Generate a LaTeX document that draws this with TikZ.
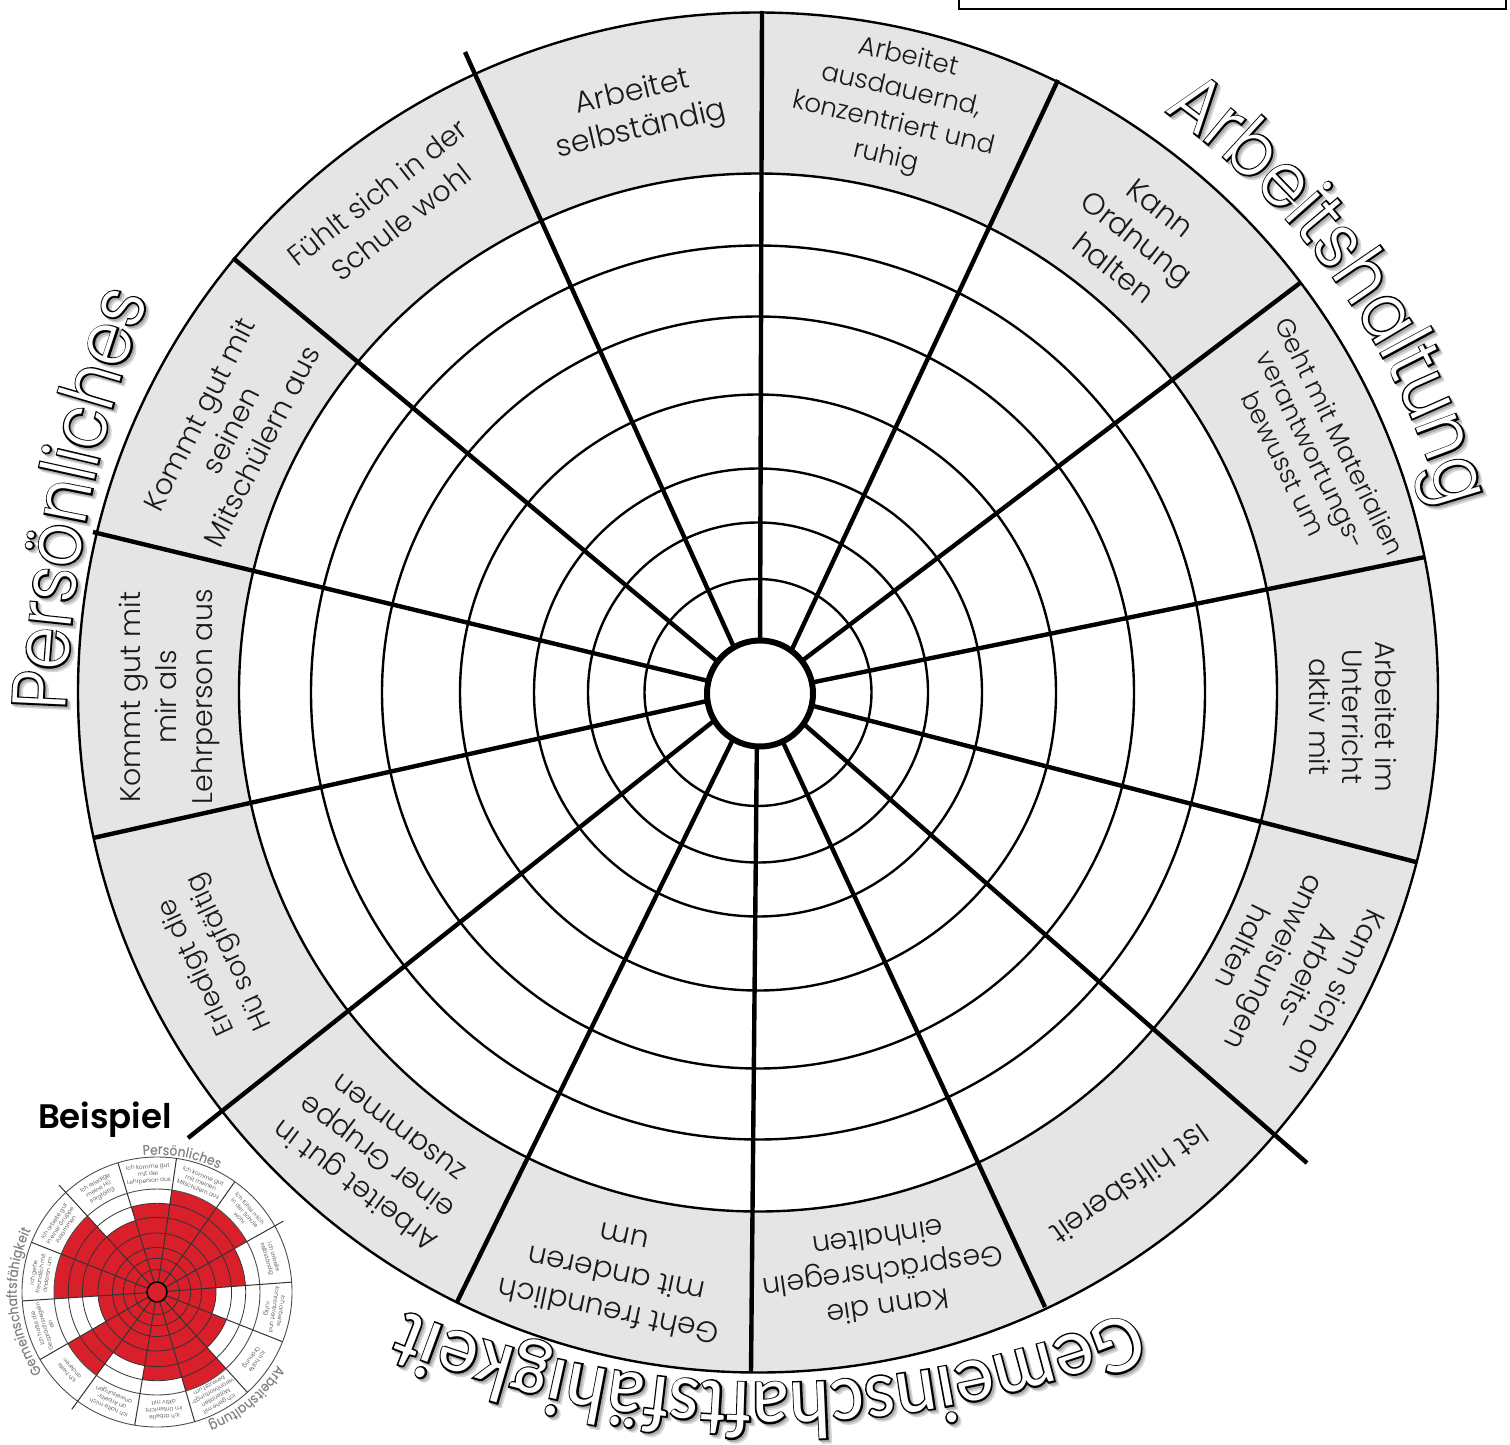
\documentclass[tikz,border=0pt]{standalone}
\usepackage{fontspec}
\usetikzlibrary{decorations.text}
\setmainfont{Poppins Light}
\newfontfamily\pfw[FakeStretch=.9]{Poppins Light}
\newfontfamily\pfb[FakeStretch=.9,FakeBold=4]{Poppins Light}
\newfontfamily\afw[FakeStretch=.9]{Poppins Light}
\newfontfamily\afb[FakeStretch=.9,FakeBold=4]{Poppins Light}
\newfontfamily\gfw[FakeStretch=.95]{Carlito}
\newfontfamily\gfb[FakeStretch=.95,FakeBold=4]{Carlito}
\newfontfamily\ifn[FakeStretch=.88]{Poppins Medium}
\newfontfamily\beifont{Poppins SemiBold}
\newcommand\hw{}\newcommand\hb{}\newcommand\hsa{}\newcommand\hsb{}
\newcommand\usehead[3]{%
 \renewcommand\hw{#1\fontsize{#3}{#3}\selectfont\color{white}}%
 \renewcommand\hb{#2\fontsize{#3}{#3}\selectfont\color{black}}%
 \renewcommand\hsa{#2\fontsize{#3}{#3}\selectfont\color{black!16}}%
 \renewcommand\hsb{#2\fontsize{#3}{#3}\selectfont\color{black!32}}}
\newcommand\hi{\ifn\fontsize{14}{14}\selectfont\color{black!50}}
\definecolor{ringgray}{HTML}{E5E5E5}
\definecolor{insetred}{HTML}{D9202A}
\newcommand\hdg[6]{% cx cy r start end text
 \path[decorate,decoration={text along path,text align=center,text={|\hsa|#6}}] (#1+3.5,#2-3.5)+(#4:#3) arc[start angle=#4,end angle=#5,radius=#3];
 \path[decorate,decoration={text along path,text align=center,text={|\hsb|#6}}] (#1+1.8,#2-1.8)+(#4:#3) arc[start angle=#4,end angle=#5,radius=#3];
 \path[decorate,decoration={text along path,text align=center,text={|\hb|#6}}] (#1,#2)+(#4:#3) arc[start angle=#4,end angle=#5,radius=#3];
 \path[decorate,decoration={text along path,text align=center,text={|\hw|#6}}] (#1,#2)+(#4:#3) arc[start angle=#4,end angle=#5,radius=#3];
}
\tikzset{
 ring/.style={line width=2.4pt,black},
 spoke/.style={line width=4.4pt,black},
 hub/.style={line width=6pt,black,fill=white},
 lbl/.style 2 args={align=center,inner sep=0pt,text=black!90,font=\fontsize{#1}{#2}\selectfont},
 ilbl/.style={align=center,inner sep=0pt,text=black!75,font=\fontsize{5.8}{7}\selectfont},
 iring/.style={line width=0.9pt,black!70},
 ispoke/.style={line width=1pt,black!80}
}
\begin{document}
\begin{tikzpicture}[x=1pt,y=1pt]
\useasboundingbox (0,0) rectangle (1510,-1445);
\clip (0,0) rectangle (1510,-1445);
% top right box
\draw[line width=2.4pt] (959,5) |- (1506,-9) -- (1506,5);
% rings
\coordinate (C) at (758,-692.5);
\fill[ringgray] (C) circle[radius=680];
\draw[ring] (C) circle[radius=680];
\fill[white] (C) circle[radius=519];
\foreach \r in {113.5,170,224,298,376,447,519} \draw[ring] (C) circle[radius=\r];
% spokes
\foreach \xa/\ya/\xb/\yb in {762/11/760/660,1058/80/787/660,1300/283/790/670,1425/557/790/687,1416/862/790/700,1307/1163/790/712,1045/1307/775/725,751/1372/757/730,457/1302/740/725,188/1138/725/712,93/838/725/697,93/532/725/685,233/258/730/672,465/52/742/665}
  \draw[spoke] (\xa,-\ya) -- (\xb,-\yb);
\draw[hub] (760,-693.5) circle[radius=53];
% labels
\node[lbl={30}{38}] (n1) at (637,-112) [rotate=13] {Arbeitet\\selbständig};
\node[lbl={26}{34}] (n2) at (897,-108) [rotate=-13] {Arbeitet\\ausdauernd,\\konzentriert und\\ruhig};
\node[lbl={30}{38}] (n3) at (1137,-238) [rotate=-38] {Kann\\Ordnung\\halten};
\node[lbl={26}{31}] (n4) at (1312,-450) [rotate=-64] {Geht mit Materialien\\verantwortungs-\\bewusst um};
\node[lbl={28}{33}] (n5) at (1353,-717) [rotate=-90] {Arbeitet im\\Unterricht\\aktiv mit};
\node[lbl={28.5}{35}] (n6) at (1291,-970) [rotate=-116] {Kann sich an\\Arbeits-\\anweisungen\\halten};
\node[lbl={30}{36}] (n7) at (1130,-1185) [rotate=-145] {Ist hilfsbereit};
\node[lbl={28.4}{35}] (n8) at (883,-1273) [rotate=-172] {Kann die\\Gesprächsregeln\\einhalten};
\node[lbl={29.5}{38}] (n9) at (616,-1275) [rotate=168] {Geht freundlich\\mit anderen\\um};
\node[lbl={28.5}{36}] (n10) at (376,-1158) [rotate=143] {Arbeitet gut in\\einer Gruppe\\zusammen};
\node[lbl={27}{36}] (n11) at (214,-959) [rotate=115] {Erledigt die\\Hü sorgfältig};
\node[lbl={28.4}{36}] (n12) at (169,-697) [rotate=90] {Kommt gut mit\\mir als\\Lehrperson aus};
\node[lbl={28.5}{35}] (n13) at (230,-430) [rotate=63] {Kommt gut mit\\seinen\\Mitschülern aus};
\node[lbl={28.5}{38}] (n14) at (389,-207) [rotate=38] {Fühlt sich in der\\Schule wohl};
% headings
\usehead{\afw}{\afb}{76}
\hdg{758}{-692}{709}{59.5}{10.5}{Arbeitshaltung}
\usehead{\pfw}{\pfb}{76}
\hdg{1319}{-749}{1254}{181.6}{155.6}{Persönliches}
\usehead{\gfw}{\gfb}{82}
\hdg{769}{-424}{959}{-63}{-117}{Gemeinschaftsfähigkeit}
% inset
\node[inner sep=0pt,font=\beifont\fontsize{34}{34}\selectfont] (bsp) at (105,-1120) {Beispiel};
\begin{scope}[shift={(157,-1292)}]
 \fill[white] (0,0) circle[radius=135];
 \foreach \a/\b/\r in {81.7/54.8/103,54.8/29.3/103,29.3/4.2/88.7,4.2/-21.6/59,-21.6/-48/74.6,-48/-73.8/103,-73.8/-99.5/88.7,-99.5/-126/74.6,-126/-150/103,-150/-176.2/59,183.8/158.4/103,158.4/132.5/103,132.5/106.8/74.6,106.8/81.7/88.7}
  \fill[insetred] (0,0) -- (\a:\r) arc[start angle=\a,end angle=\b,radius=\r] -- cycle;
 \foreach \r in {22.4,33.7,44.5,59,74.6,88.7} \draw[line width=0.8pt,black!80] (0,0) circle[radius=\r];
 \draw[iring] (0,0) circle[radius=103];
 \draw[iring] (0,0) circle[radius=135];
 \foreach \a/\r in {4.2/135,29.3/145,54.8/135,81.7/135,106.8/135,132.5/145,158.4/135,183.8/135,210/135,234/145,260.5/135,286.2/135,312/135,338.4/135}
  \draw[ispoke] (\a:10) -- (\a:\r);
 \draw[line width=1.5pt,fill=insetred] (0,0) circle[radius=10];
 \foreach \m/\t in {94.2/{Ich komme gut\\mit der\\Lehrperson aus},68.2/{Ich komme gut\\mit meinen\\Mitschülern aus},42/{Ich fühle mich\\in der Schule\\wohl},16.7/{Ich arbeite\\selbständig},-8.7/{Ich arbeite\\konzentriert und\\ruhig},-34.8/{Ich halte\\Ordnung},-60.9/{Ich gehe mit\\Materialien\\verantwortungs-\\bewusst um},-86.6/{Ich arbeite\\im Unterricht\\aktiv mit},-112.7/{Ich halte mich\\an Arbeits-\\anweisungen},-138/{Ich helfe\\anderen},-163/{Ich halte die\\Gesprächsregeln\\ein},171/{Ich gehe\\freundlich mit\\anderen um},145.5/{Ich arbeite gut\\in einer Gruppe\\zusammen},119.6/{Ich erledige\\meine HÜ\\sorgfältig}}
  \node[ilbl,rotate=\m-90] at (\m:118) {\t};
\end{scope}
\path[decorate,decoration={text along path,text align=center,text={|\hi|Persönliches}}] (157,-1292)+(100:137) arc[start angle=100,end angle=59,radius=137];
\path[decorate,decoration={text along path,text align=center,text={|\hi|Arbeitshaltung}}] (157,-1292)+(-26:141) arc[start angle=-26,end angle=-74,radius=141];
\path[decorate,decoration={text along path,text align=center,text={|\hi|Gemeinschaftsfähigkeit}}] (157,-1292)+(219:140) arc[start angle=219,end angle=150,radius=140];
\end{tikzpicture}
\end{document}
